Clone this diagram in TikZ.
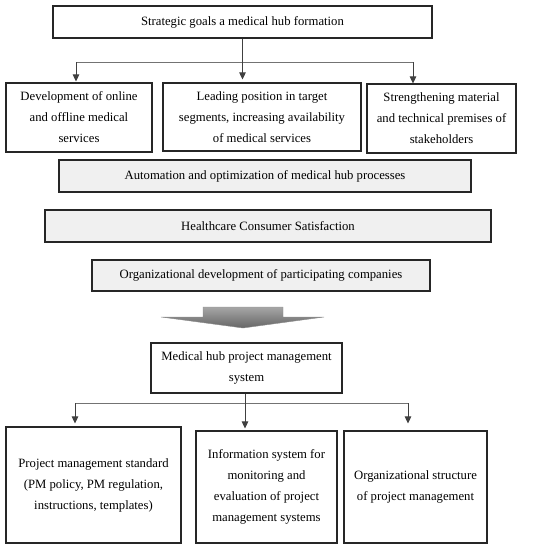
\documentclass[tikz,border=0pt]{standalone}
\usepackage{fontspec}
\setmainfont{Liberation Serif}
\usetikzlibrary{arrows.meta}
\tikzset{
  box/.style={draw=black!85,line width=1.1pt,align=center,inner sep=0pt,
    font=\fontsize{12.7}{21}\selectfont},
  greybox/.style={box,fill=black!6},
  down/.style={-{Triangle[length=7pt,width=6.5pt]},black!75,line width=0.8pt},
  bar/.style={black!55,line width=0.8pt}
}
\begin{document}
\begin{tikzpicture}[x=1pt,y=-1pt]
\useasboundingbox (0,0) rectangle (544,550);
% goals
\node[box,minimum width=379pt,minimum height=32pt] (goal) at (242.5,22) {Strategic goals a medical hub formation};
\node[box,minimum width=146pt,minimum height=69pt] (dev) at (79,117.5) {Development of online\\and offline medical\\services};
\node[box,minimum width=198pt,minimum height=68pt] (lead) at (262,117) {Leading position in target\\segments, increasing availability\\of medical services};
\node[box,minimum width=149pt,minimum height=69pt] (stren) at (441.5,118.5) {Strengthening material\\and technical premises of\\stakeholders};
\node[greybox,minimum width=412pt,minimum height=32pt] (auto) at (265,176) {Automation and optimization of medical hub processes};
\node[greybox,minimum width=446pt,minimum height=32pt] (sat) at (268,226) {Healthcare Consumer Satisfaction};
\node[greybox,minimum width=338pt,minimum height=31pt] (orgdev) at (261,275.5) {Organizational development of participating companies};
% big arrow
\draw[black!45,top color=black!35,bottom color=black!60] (203,307) -- (283,307) -- (283,317) -- (324,317) -- (243,328) -- (161,317) -- (203,317) -- cycle;
% project management system
\node[box,minimum width=191pt,minimum height=50pt] (hub) at (246.5,368) {Medical hub project management\\system};
\node[box,minimum width=175pt,minimum height=116pt] (std) at (93.5,485) {Project management standard\\(PM policy, PM regulation,\\instructions, templates)};
\node[box,minimum width=141pt,minimum height=112pt] (info) at (266.5,487) {Information system for\\monitoring and\\evaluation of project\\management systems};
\node[box,minimum width=143pt,minimum height=112pt] (orgstr) at (415.5,487) {Organizational structure\\of project management};
% connectors, top
\coordinate (gl) at (76,62);
\coordinate (gr) at (413,62);
\draw[bar] (gl) -- (gr);
\draw[down] (goal.south) -- ([yshift=3pt]goal.south |- lead.north);
\draw[down] (gl) -- ([yshift=1pt]gl |- dev.north);
\draw[down] (gr) -- ([yshift=0pt]gr |- stren.north);
% connectors, bottom
\coordinate (hl) at (75,403);
\coordinate (hr) at (408,403);
\draw[bar] (hl) -- (hr);
\draw[down] ([xshift=-1.5pt]hub.south) -- ([xshift=-1.5pt,yshift=2pt]hub.south |- info.north);
\draw[down] (hl) -- ([yshift=3pt]hl |- std.north);
\draw[down] (hr) -- ([yshift=7pt]hr |- orgstr.north);
\end{tikzpicture}
\end{document}
